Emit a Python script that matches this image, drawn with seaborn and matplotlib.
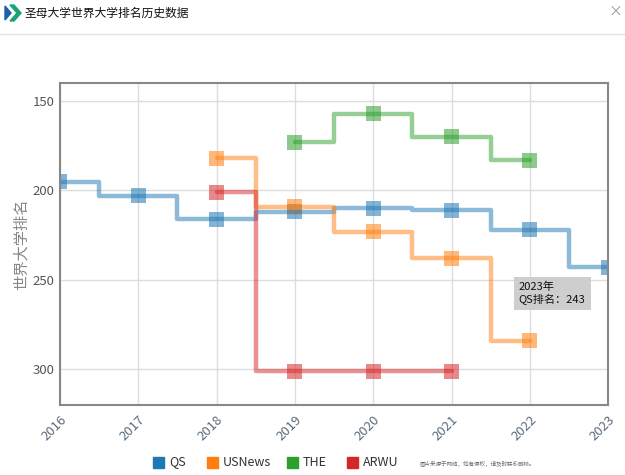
# -*- coding: utf-8 -*-
import numpy as np
import pandas as pd
import matplotlib
matplotlib.use("Agg")
import matplotlib.pyplot as plt
import seaborn as sns
from matplotlib.patches import Polygon, Rectangle

# data
years = [2016, 2017, 2018, 2019, 2020, 2021, 2022, 2023]
qs_years = [2016, 2017, 2018, 2019, 2020, 2021, 2022, 2023]
qs_rank = [195, 203, 216, 212, 210, 211, 222, 243]
us_years = [2018, 2019, 2020, 2021, 2022]
us_rank = [182, 209, 223, 238, 284]
the_years = [2019, 2020, 2021, 2022]
the_rank = [173, 157, 170, 183]
arwu_years = [2018, 2019, 2020, 2021]
arwu_rank = [201, 301, 301, 301]
series_names = ["QS", "USNews", "THE", "ARWU"]
colors = ["#1f77b4", "#ff7f0e", "#2ca02c", "#d62728"]

frames = []
for name, xs, ys in zip(series_names,
                        [qs_years, us_years, the_years, arwu_years],
                        [qs_rank, us_rank, the_rank, arwu_rank]):
    frames.append(pd.DataFrame({"year": xs, "rank": ys, "source": name}))
df = pd.concat(frames, ignore_index=True)

sns.set_style("white")
plt.rcParams["font.family"] = ["Noto Sans CJK SC", "DejaVu Sans"]

fig = plt.figure(figsize=(6.25, 4.75), dpi=100)
ax = fig.add_axes([0.096, 0.147, 0.877, 0.678])

palette = dict(zip(series_names, colors))
for name in series_names:
    sub = df[df["source"] == name]
    sns.lineplot(data=sub, x="year", y="rank", color=palette[name],
                 drawstyle="steps-mid", linewidth=3.2, alpha=0.5, ax=ax,
                 legend=False)
sns.scatterplot(data=df, x="year", y="rank", hue="source", palette=palette,
                marker="s", s=115, alpha=0.55, linewidth=0, ax=ax, legend=False)

ax.set_xlim(2016, 2023)
ax.set_ylim(320, 140)
ax.set_xticks(years)
ax.set_xticklabels([str(y) for y in years], rotation=45, ha="right",
                   rotation_mode="anchor", color="#5a6a7a", fontsize=9.5)
ax.set_yticks([150, 200, 250, 300])
ax.tick_params(axis="y", colors="#555555", labelsize=9.5, length=0, pad=4)
ax.tick_params(axis="x", length=0, pad=6)
ax.grid(True, color="#dddddd", linewidth=1)
ax.set_axisbelow(True)
for sp in ax.spines.values():
    sp.set_color("#888888")
    sp.set_linewidth(1.5)
ax.set_xlabel("")
ax.set_ylabel("世界大学排名", color="#888888", fontsize=11)
ax.yaxis.set_label_coords(-0.056, 0.5)

# tooltip
ax.text(2021.86, 257.5, "2023年\nQS排名：243", fontsize=8, color="#111111",
        va="center", ha="left", linespacing=1.2,
        bbox=dict(boxstyle="square,pad=0.45", facecolor="#cccccc",
                  edgecolor="none", alpha=0.95))

# header
fig.add_artist(Polygon([[5/625, 1-6/475], [11/625, 1-13/475], [5/625, 1-20/475]],
                       closed=True, color="#1f5fa8", transform=fig.transFigure))
fig.add_artist(Polygon([[10/625, 1-5/475], [14/625, 1-5/475], [21/625, 1-13/475],
                        [14/625, 1-21/475], [10/625, 1-21/475], [17/625, 1-13/475]],
                       closed=True, color="#1aa37a", transform=fig.transFigure))
fig.text(25/625, 1-13/475, "圣母大学世界大学排名历史数据", fontsize=8.5,
         color="#111111", va="center", ha="left")
fig.text(615/625, 1-12/475, "×", fontsize=10, color="#999999",
         va="center", ha="center")
fig.add_artist(plt.Line2D([0, 1], [1-34/475, 1-34/475], color="#e3e0ea",
                          linewidth=1, transform=fig.transFigure))

# legend
leg_y = 1 - 462/475
for name, c, x0 in zip(series_names, colors, [153, 207, 287, 347]):
    fig.add_artist(Rectangle((x0/625, leg_y - 5.5/475), 11/625, 11/475,
                             color=c, transform=fig.transFigure))
    fig.text((x0 + 16)/625, leg_y, name, fontsize=9, color="#333333",
             va="center", ha="left")
fig.text(420/625, leg_y - 1/475, "图片来源于网络，如有侵权，请及时联系删除。",
         fontsize=4, color="#666666", va="center", ha="left")

fig.savefig("out.png", dpi=100)
